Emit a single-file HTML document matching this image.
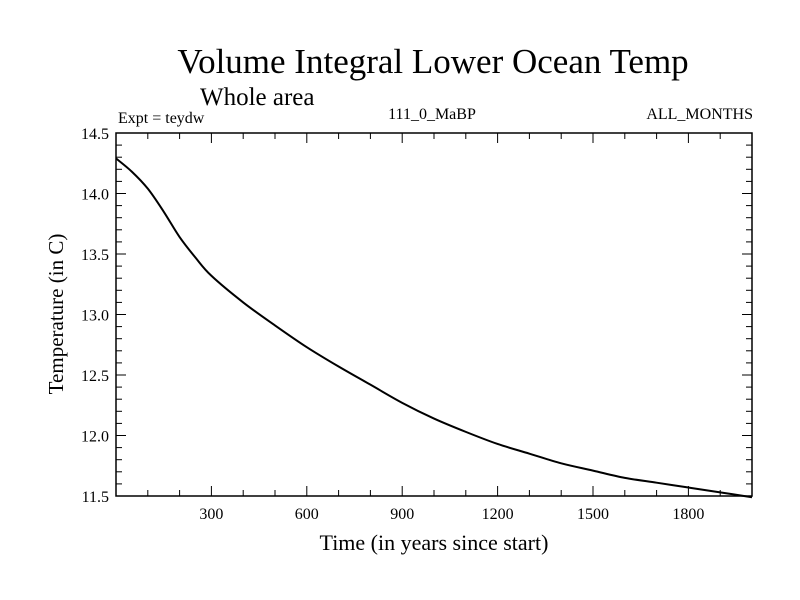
<!DOCTYPE html>
<html><head><meta charset="utf-8"><style>
body{margin:0;background:#fff}
svg{display:block;font-family:"Liberation Serif",serif}
</style></head><body>
<svg width="800" height="600">
<text x="433" y="73" font-size="35" text-anchor="middle">Volume Integral Lower Ocean Temp</text>
<text x="200" y="105" font-size="25">Whole area</text>
<text x="118" y="123" font-size="16">Expt = teydw</text>
<text x="432" y="119" font-size="16" text-anchor="middle">111_0_MaBP</text>
<text x="753" y="119" font-size="16" text-anchor="end">ALL_MONTHS</text>
<g id="axes"></g>
<text x="434" y="550" font-size="22" text-anchor="middle">Time (in years since start)</text>
<text transform="translate(63,314) rotate(-90)" font-size="21" text-anchor="middle">Temperature (in C)</text>
</svg>
<script>
const years=[0,50,100,150,200,250,300,400,500,600,700,800,900,1000,1100,1200,1300,1400,1500,1600,1700,1800,1900,2000];
const temps=[14.29,14.18,14.04,13.85,13.64,13.47,13.32,13.1,12.91,12.73,12.57,12.42,12.27,12.14,12.03,11.93,11.85,11.77,11.71,11.65,11.61,11.57,11.53,11.49];
const xTicks=[300,600,900,1200,1500,1800];
const yTicks=[11.5,12.0,12.5,13.0,13.5,14.0,14.5];
const L=116,R=752,T=133,B=496,X0=0,X1=2000,Y0=11.5,Y1=14.5;
const xs=v=>L+(v-X0)/(X1-X0)*(R-L);
const ys=v=>B-(v-Y0)/(Y1-Y0)*(B-T);
const ns="http://www.w3.org/2000/svg",g=document.getElementById('axes');
function mk(t,a){const e=document.createElementNS(ns,t);for(const k in a)e.setAttribute(k,a[k]);g.appendChild(e);return e;}
const fr=mk('rect',{x:L,y:T,width:R-L,height:B-T,fill:'none',stroke:'#000','stroke-width':1.5});


for(let v=100;v<X1;v+=100){const maj=v%300===0,len=maj?10:6;
 mk('line',{x1:xs(v),x2:xs(v),y1:B,y2:B-len,stroke:'#000'});
 mk('line',{x1:xs(v),x2:xs(v),y1:T,y2:T+len,stroke:'#000'});}
for(let i=1;i<30;i++){const v=Y0+i*0.1,maj=i%5===0,len=maj?10:6;
 mk('line',{x1:L,x2:L+len,y1:ys(v),y2:ys(v),stroke:'#000'});
 mk('line',{x1:R,x2:R-len,y1:ys(v),y2:ys(v),stroke:'#000'});}
xTicks.forEach(v=>{const t=mk('text',{x:xs(v),y:B+23,'font-size':16,'text-anchor':'middle'});t.textContent=v;
 
 });
yTicks.forEach(v=>{const t=mk('text',{x:L-7,y:ys(v)+6,'font-size':16,'text-anchor':'end'});t.textContent=v.toFixed(1);
 
 });
const pts=years.map((y,i)=>[xs(y),ys(temps[i])]);
let d='M'+pts[0][0]+','+pts[0][1];
for(let i=0;i<pts.length-1;i++){const p0=pts[Math.max(0,i-1)],p1=pts[i],p2=pts[i+1],p3=pts[Math.min(pts.length-1,i+2)];
 d+=' C'+(p1[0]+(p2[0]-p0[0])/6)+','+(p1[1]+(p2[1]-p0[1])/6)+' '+(p2[0]-(p3[0]-p1[0])/6)+','+(p2[1]-(p3[1]-p1[1])/6)+' '+p2[0]+','+p2[1];}
const p=mk('path',{d:d,fill:'none',stroke:'#000','stroke-width':2,'stroke-linejoin':'round'});


</script>
</body></html>
